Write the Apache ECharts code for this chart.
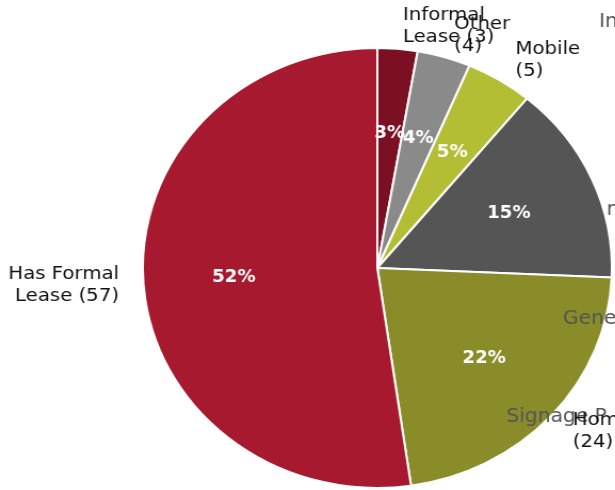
<!DOCTYPE html>
<html>
<head>
<meta charset="utf-8">
<script src="https://cdn.jsdelivr.net/npm/echarts@6/dist/echarts.min.js"></script>
<style>
  html, body { margin: 0; padding: 0; background: #fff; overflow: hidden; }
  #wrap { width: 615px; height: 490px; overflow: hidden; position: relative; }
  #chart { width: 578px; height: 490px; transform: scaleX(1.066); transform-origin: 0 0; }
</style>
</head>
<body>
<div id="wrap"><div id="chart"></div></div>
<script>
// Tenure categories, clockwise from 12 o'clock
const categories = ['Informal Lease', 'Other', 'Mobile', 'Unknown', 'Homeowner', 'Has Formal Lease'];
const counts = [3, 4, 5, 16, 24, 57];
const colors = ['#7b1022', '#8a8a8a', '#b4be35', '#555555', '#8a8c29', '#a6192e'];
// Label offset along the leader (hidden), per slice
const labelShift = [-2, -2, -2, -2, -2, -5];
// Gray annotation words in the right margin
const noteTexts = ['In', 'n', 'Gene', 'Signage P'];
const noteAnchors = [[562, 22], [569, 210], [528, 319], [475, 417]];

const total = counts.reduce((a, b) => a + b, 0);
const center = [354, 268];
const R = 220;

const slices = categories.map((c, i) => ({ name: c, value: counts[i], itemStyle: { color: colors[i] } }));
const ghost = categories.map((c, i) => ({ name: c, value: counts[i] }));
const ghostOuter = categories.map((c, i) => ({
  name: c, value: counts[i],
  labelLine: { show: false, length: 23, length2: labelShift[i] }
}));

const chart = echarts.init(document.getElementById('chart'), null, { renderer: 'canvas' });
chart.setOption({
  animation: false,
  backgroundColor: '#fff',
  graphic: noteTexts.map((t, i) => ({
    type: 'text',
    z: 2,
    x: noteAnchors[i][0],
    y: noteAnchors[i][1],
    style: {
      text: t,
      fill: '#555555',
      font: '19px "DejaVu Sans"',
      textVerticalAlign: 'middle'
    }
  })),
  series: [
    {
      type: 'pie',
      z: 1,
      center: center,
      radius: [0, R],
      startAngle: 90,
      silent: true,
      label: { show: false },
      labelLine: { show: false },
      itemStyle: { borderColor: '#ffffff', borderWidth: 2 },
      data: slices
    },
    {
      // outside category labels
      type: 'pie',
      z: 3,
      center: center,
      radius: [0, R],
      startAngle: 90,
      silent: true,
      avoidLabelOverlap: false,
      labelLayout: { hideOverlap: false },
      itemStyle: { color: 'rgba(0,0,0,0)', borderWidth: 0 },
      label: {
        show: true,
        position: 'outside',
        color: '#111',
        fontFamily: 'DejaVu Sans',
        fontSize: 18.5,
        lineHeight: 22,
        formatter: p => {
          const words = p.name.split(' ');
          if (words.length === 1) return p.name + '\n(' + p.value + ')';
          if (words.length === 3) return words[0] + ' ' + words[1] + '\n' + words[2] + ' (' + p.value + ')';
          return words[0] + '\n' + words.slice(1).join(' ') + ' (' + p.value + ')';
        }
      },
      labelLine: { show: false, length: 23, length2: -2 },
      data: ghostOuter
    },
    {
      // percentage labels inside the slices
      type: 'pie',
      z: 3,
      center: center,
      radius: [0, R * 1.2],
      startAngle: 90,
      silent: true,
      avoidLabelOverlap: false,
      labelLayout: { hideOverlap: false },
      itemStyle: { color: 'rgba(0,0,0,0)', borderWidth: 0 },
      label: {
        show: true,
        position: 'inside',
        color: '#fff',
        fontFamily: 'DejaVu Sans',
        fontWeight: 'bold',
        fontSize: 17,
        formatter: p => Math.round(p.value / total * 100) + '%'
      },
      labelLine: { show: false },
      data: ghost
    }
  ]
});
</script>
</body>
</html>
